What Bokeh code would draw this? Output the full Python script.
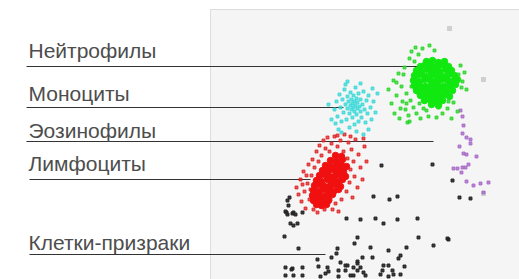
from bokeh.plotting import figure
from bokeh.models import Range1d, BoxAnnotation
from bokeh.core.properties import value
from bokeh.embed import file_html
from bokeh.resources import INLINE

# ---- data (arbitrary channel units: x = side scatter, y = fluorescence) ----
neutro_core_x = [216, 222, 228, 234,
                 210, 215, 221, 227, 232, 238,
                 206, 211, 217, 223, 229, 235, 241,
                 204, 209, 215, 221, 226, 232, 238, 244,
                 203, 208, 214, 220, 225, 231, 237, 242, 247,
                 204, 209, 215, 221, 227, 233, 239, 245,
                 206, 212, 218, 224, 230, 236, 242,
                 210, 216, 222, 228, 234, 239,
                 214, 220, 226, 232,
                 221, 228]
neutro_core_y = [218, 219, 217, 218,
                 213, 215, 214, 213, 215, 213,
                 209, 208, 210, 209, 208, 210, 209,
                 204, 205, 203, 205, 204, 203, 205, 204,
                 199, 198, 200, 199, 198, 200, 199, 198, 200,
                 194, 195, 193, 194, 195, 193, 194, 195,
                 189, 190, 188, 189, 190, 188, 189,
                 184, 185, 183, 184, 185, 183,
                 179, 180, 178, 179,
                 175, 174]
neutro_x = [178, 181, 183, 186, 188, 189, 191, 192, 194, 195, 196, 198,
            199, 200, 201, 199, 205, 203, 206, 208, 210, 212, 213, 218,
            219, 224, 226, 228, 232, 237, 241, 243, 247,
            250, 252, 254, 256, 248, 186, 190, 193, 196, 204,
            209, 238, 251, 216, 207, 201, 184, 197]
neutro_y = [190, 176, 199, 184, 206, 161, 193, 178, 212, 170, 186, 164,
            221, 179, 228, 158, 232, 172, 166, 225, 161, 231, 171, 163,
            234, 229, 162, 172, 166, 171, 161, 177, 168,
            214, 198, 207, 190, 205, 197, 171, 205, 176, 218,
            176, 178, 192, 169, 187, 193, 166, 157]

mono_x = [124, 126, 127, 129, 130, 131, 132, 133, 134, 135, 136, 137, 137, 138,
          139, 140, 140, 141, 141, 142, 142, 143, 143, 144, 144, 145, 145, 146,
          146, 147, 147, 148, 148, 149, 150, 150, 151, 152, 153, 154, 155, 156,
          157, 158, 160, 161, 163, 165, 167, 139, 144, 135, 150, 128, 158,
          121, 118, 131, 162, 153, 137, 146, 125]
mono_y = [170, 178, 163, 185, 172, 158, 180, 167, 190, 175, 160, 171, 183, 178,
          166, 174, 187, 170, 180, 162, 176, 172, 184, 168, 178, 174, 192, 165,
          181, 171, 177, 158, 186, 173, 168, 180, 162, 175, 188, 170, 157, 179,
          166, 184, 172, 160, 178, 167, 186, 152, 155, 195, 196, 150, 150,
          160, 175, 147, 191, 145, 198, 148, 156]

lymph_core_x = [125, 131,
                120, 126, 132,
                115, 120, 126, 131, 136,
                112, 117, 122, 128, 133,
                109, 114, 119, 125, 130, 135,
                106, 111, 117, 122, 127, 132,
                104, 109, 114, 120, 125, 130,
                103, 108, 113, 118, 123, 128,
                102, 107, 112, 117, 122,
                103, 108, 113, 118,
                106, 111, 116]
lymph_core_y = [124, 123,
                119, 118, 120,
                114, 113, 115, 114, 113,
                109, 108, 110, 109, 108,
                104, 105, 103, 104, 105, 103,
                99, 98, 100, 99, 98, 100,
                94, 95, 93, 94, 95, 93,
                89, 88, 90, 89, 88, 90,
                84, 85, 83, 84, 85,
                79, 80, 78, 79,
                75, 74, 75]
lymph_x = [86, 88, 90, 91, 93, 94, 95, 97, 98, 99, 101, 102, 103, 104, 106,
           107, 108, 109, 111, 113, 114, 115, 117, 119, 121, 122, 124,
           125, 127, 128, 130, 131, 133, 134, 136, 137, 138, 139, 140, 141, 142,
           143, 144, 145, 147, 148, 150, 152, 154, 156, 100, 96, 92, 105,
           120, 116, 127, 140, 153]
lymph_y = [92, 85, 100, 78, 108, 88, 71, 96, 115, 80, 104, 120, 70, 112, 128,
           67, 118, 134, 124, 139, 70, 131, 142, 128, 136, 70, 143,
           76, 133, 68, 139, 80, 128, 145, 88, 121, 137, 97, 110, 130, 82,
           118, 103, 140, 92, 125, 112, 100, 133, 118, 90, 104, 95, 95,
           80, 76, 144, 143, 141]

eos_x = [252, 253, 252, 256, 260, 260, 249, 253, 256, 266, 258, 255, 252, 243,
         247, 251, 256, 263, 270, 278, 273, 250]
eos_y = [163, 154, 146, 142, 140, 136, 133, 126, 125, 123, 115, 112, 112, 111,
         111, 107, 98, 94, 96, 97, 87, 169]

ghost_x = [171, 222, 242, 163, 179, 187, 249, 260, 77, 78, 76, 77, 83, 92, 80, 83,
           87, 74, 136, 150, 165, 173, 187, 207, 147, 144, 160, 208, 223, 237,
           196, 88, 178, 190, 188, 127, 126, 107, 121, 130, 137, 143, 147, 152,
           162, 75, 82, 92, 108, 117, 135, 147, 150, 173, 178, 194, 75, 83, 92,
           110, 115, 118, 128, 128, 135, 140, 143, 147, 153, 155, 170, 172, 182,
           178, 183, 190, 79, 85, 82, 81, 75, 238]
ghost_y = [114, 115, 99, 83, 80, 83, 82, 81, 79, 74, 67, 65, 67, 67, 56, 54,
           56, 43, 61, 60, 61, 56, 60, 61, 42, 36, 32, 42, 34, 41,
           32, 31, 29, 24, 21, 31, 26, 20, 22, 17, 14, 12, 18, 22,
           22, 12, 11, 12, 13, 12, 14, 16, 12, 14, 14, 13, 4, 4, 4,
           3, 6, 8, 9, 3, 9, 4, 4, 9, 7, 4, 5, 9, 9,
           3, 5, 5, 82, 65, 66, 10, 68, 40]

debris_x = [239, 273, 273]
debris_y = [251, 200, 86]

labels = ["Нейтрофилы", "Моноциты", "Эозинофилы", "Лимфоциты", "Клетки-призраки"]

# ---- layout of the annotation labels and leader lines ----
label_x = [-182, -182, -182, -182, -182]
label_y = [229.5, 186.5, 149, 116.5, 37.5]
line_x0 = [-184, -184, -184, -181, -181]
line_x1 = [213, 133, 223, 100, 115]
line_y = [213, 172, 138, 100, 25]

p = figure(width=519, height=279, output_backend="svg", toolbar_location=None,
           x_range=Range1d(-210, 309), y_range=Range1d(0, 279),
           min_border=0, min_border_left=0, min_border_right=0,
           min_border_top=0, min_border_bottom=0)
p.xaxis.visible = False
p.yaxis.visible = False
p.grid.visible = False
p.outline_line_color = None
p.background_fill_color = "white"
p.border_fill_color = "white"

panel = BoxAnnotation(left=0, right=400, bottom=-60, top=270,
                      fill_color="#f5f5f5", fill_alpha=1.0,
                      line_color="#9a9a9a", line_width=1, level="underlay")
p.add_layout(panel)

p.segment(x0=line_x0, y0=line_y, x1=line_x1, y1=line_y,
          line_color="#333333", line_width=1.2)

p.text(x=label_x, y=label_y, text=labels, text_font=value("Liberation Sans"),
       text_font_size="21px", text_color="#4d4d4d",
       text_align="left", text_baseline="alphabetic")

p.scatter(debris_x, debris_y, marker="square", size=4, color="#cccccc", alpha=0.9)
p.scatter(ghost_x, ghost_y, marker="square", size=3, color="#262626", alpha=0.9)
p.scatter(eos_x, eos_y, marker="square", size=3, color="#a86ac8", alpha=0.8)
p.scatter(lymph_x, lymph_y, marker="square", size=3, color="#e02020", alpha=0.75)
p.scatter(lymph_core_x, lymph_core_y, marker="circle", size=6.5, color="#f01010")
p.scatter(mono_x, mono_y, marker="square", size=3, color="#40dada", alpha=0.8)
p.scatter(neutro_x, neutro_y, marker="square", size=3, color="#22d622", alpha=0.75)
p.scatter(neutro_core_x, neutro_core_y, marker="circle", size=6.5, color="#10e810")

open("out.html", "w").write(file_html(p, INLINE))
